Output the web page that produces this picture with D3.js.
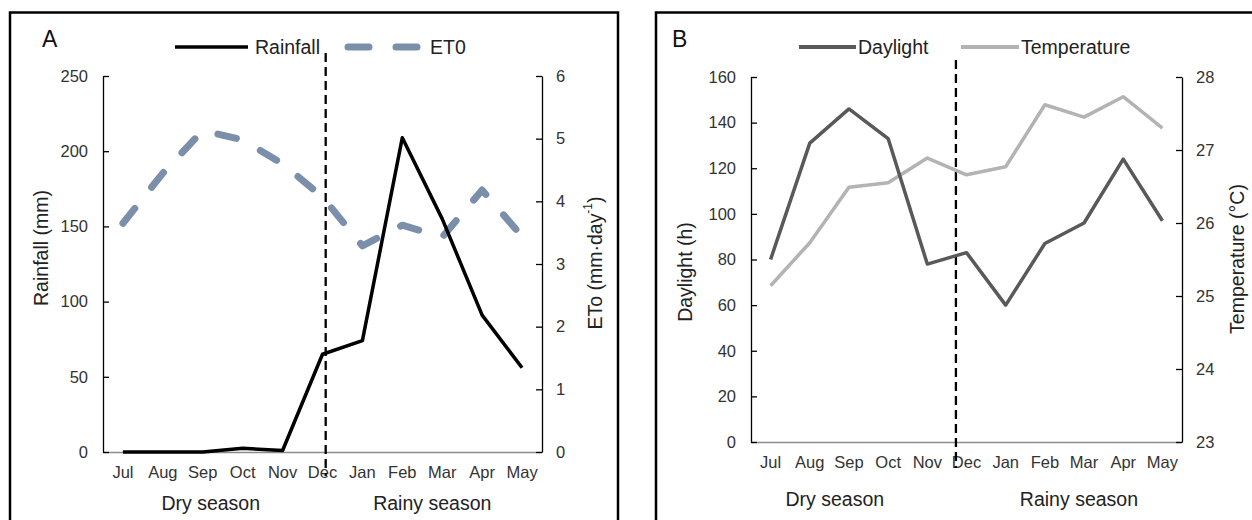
<!DOCTYPE html>
<html>
<head>
<meta charset="utf-8">
<script src="https://cdn.jsdelivr.net/npm/d3@7"></script>
<style>
  html, body { margin: 0; padding: 0; background: #fff; }
  svg { display: block; font-family: "Liberation Sans", Arial, sans-serif; }
  .tick text { fill: #333; }
</style>
</head>
<body>
<svg id="chart" width="1252" height="520"></svg>
<script>
// ---- data ----
const months = ["Jul","Aug","Sep","Oct","Nov","Dec","Jan","Feb","Mar","Apr","May"];
const rainfall = [0, 0, 0, 2.5, 1, 65, 74, 209, 155, 91, 56];
const et0 = [3.65, 4.45, 5.13, 4.98, 4.6, 4.07, 3.29, 3.62, 3.43, 4.18, 3.44];
const daylight = [80, 131, 146, 133, 78, 83, 60, 87, 96, 124, 97];
const temperature = [25.14, 25.73, 26.49, 26.55, 26.89, 26.66, 26.77, 27.62, 27.45, 27.73, 27.3];
const rainTicks = [0, 50, 100, 150, 200, 250];
const etTicks = [0, 1, 2, 3, 4, 5, 6];
const dayTicks = [0, 20, 40, 60, 80, 100, 120, 140, 160];
const tempTicks = [23, 24, 25, 26, 27, 28];
const seasons = ["Dry season", "Rainy season"];
const seasonBreakA = 5.08;   // category index of season divider, panel A
const seasonBreakB = 4.73;   // panel B
const seasonCentersA = [2.2, 7.75];
const seasonCentersB = [1.64, 7.87];

const svg = d3.select("#chart");
svg.append("rect").attr("width", 1252).attr("height", 520).attr("fill", "#fff");

function panel(cfg) {
  const g = svg.append("g");
  // frame (no bottom edge visible)
  const fr = cfg.frame;
  g.append("path")
    .attr("d", `M${fr[0]},540 V${fr[1]} H${fr[2]} V540`)
    .attr("fill", "none").attr("stroke", "#000").attr("stroke-width", 2.5);

  const x = d3.scaleBand().domain(months).range([cfg.left, cfg.right]);
  const xc = m => x(m) + x.bandwidth() / 2;
  const xi = d3.scaleLinear().domain([0, months.length - 1]).range([xc(months[0]), xc(months[months.length - 1])]);
  const yL = d3.scaleLinear().domain(cfg.yLDomain).range([cfg.bottom, cfg.top]);
  const yR = d3.scaleLinear().domain(cfg.yRDomain).range([cfg.bottom, cfg.top]);
  const fmt = d3.format("d");

  // axes
  const ax = g.append("g").attr("transform", `translate(0,${cfg.bottom})`)
    .call(d3.axisBottom(x).tickSize(0).tickPadding(14).tickSizeOuter(0));
  ax.select(".domain").attr("stroke", "#8c8c8c").attr("stroke-width", 1.5);
  ax.selectAll("text").attr("font-size", 16.5).attr("font-family", "Liberation Sans, Arial");

  const al = g.append("g").attr("transform", `translate(${cfg.left},0)`)
    .call(d3.axisLeft(yL).tickValues(cfg.yLTicks).tickFormat(fmt).tickSizeInner(-6).tickSizeOuter(0).tickPadding(15));
  al.selectAll("text").attr("font-size", 16.5).attr("font-family", "Liberation Sans, Arial");
  al.selectAll("line, path").attr("stroke", "#000").attr("stroke-width", 1.3);

  const ar = g.append("g").attr("transform", `translate(${cfg.right},0)`)
    .call(d3.axisRight(yR).tickValues(cfg.yRTicks).tickFormat(fmt).tickSizeInner(-6).tickSizeOuter(0).tickPadding(14));
  ar.selectAll("text").attr("font-size", 16.5).attr("font-family", "Liberation Sans, Arial");
  ar.selectAll("line, path").attr("stroke", "#000").attr("stroke-width", 1.3);

  // axis titles
  g.append("text").attr("transform", `translate(${cfg.titleL[0]},${cfg.titleL[1]}) rotate(-90)`)
    .attr("text-anchor", "middle").attr("dominant-baseline", "central")
    .attr("font-size", 19.5).attr("fill", "#222").text(cfg.titleLText);
  const tr = g.append("text").attr("transform", `translate(${cfg.titleR[0]},${cfg.titleR[1]}) rotate(-90)`)
    .attr("text-anchor", "middle").attr("dominant-baseline", "central")
    .attr("font-size", 19.5).attr("fill", "#222");
  cfg.titleRText(tr);

  // panel letter
  g.append("text").attr("x", cfg.letterPos[0]).attr("y", cfg.letterPos[1])
    .attr("font-size", 23).attr("fill", "#111").text(cfg.letter);

  // season divider
  const dx = xi(cfg.seasonBreak);
  g.append("line").attr("x1", dx).attr("x2", dx).attr("y1", cfg.divY[0]).attr("y2", cfg.divY[1])
    .attr("stroke", "#000").attr("stroke-width", 2.3).attr("stroke-dasharray", "9,5");

  // season labels
  seasons.forEach((s, i) => {
    g.append("text").attr("x", xi(cfg.seasonCenters[i])).attr("y", cfg.bottom + cfg.seasonDy)
      .attr("text-anchor", "middle").attr("font-size", 19.5).attr("fill", "#222").text(s);
  });

  // series
  cfg.series.forEach(s => {
    const y = s.axis === "L" ? yL : yR;
    const line = d3.line().x((d, i) => xc(months[i])).y(d => y(d));
    g.append("path").datum(s.values).attr("d", line)
      .attr("fill", "none").attr("stroke", s.color).attr("stroke-width", s.width)
      .attr("stroke-linejoin", "round").attr("stroke-linecap", s.cap || "butt")
      .attr("stroke-dasharray", s.dash || null);
  });

  // legend
  cfg.legend.forEach(l => {
    g.append("line").attr("x1", l.x1).attr("x2", l.x2).attr("y1", cfg.legendY).attr("y2", cfg.legendY)
      .attr("stroke", l.color).attr("stroke-width", l.width)
      .attr("stroke-linecap", l.cap || "butt").attr("stroke-dasharray", l.dash || null);
    g.append("text").attr("x", l.tx).attr("y", cfg.legendY).attr("dominant-baseline", "central")
      .attr("font-size", 19.5).attr("fill", "#222").text(l.label);
  });
}

panel({
  frame: [10, 12.5, 618],
  left: 103, right: 542, top: 76, bottom: 452,
  yLDomain: [0, 250], yRDomain: [0, 6], yLTicks: rainTicks, yRTicks: etTicks,
  titleL: [41, 248], titleLText: "Rainfall (mm)",
  titleR: [595, 263],
  titleRText: t => { t.append("tspan").text("ETo (mm·day"); t.append("tspan").attr("baseline-shift", "super").attr("font-size", 12).text("-1"); t.append("tspan").text(")"); },
  letter: "A", letterPos: [42, 47],
  seasonBreak: seasonBreakA, divY: [53, 476],
  seasonCenters: seasonCentersA, seasonDy: 58,
  series: [
    { values: et0, axis: "R", color: "#7b8fab", width: 7, dash: "19,27", cap: "round" },
    { values: rainfall, axis: "L", color: "#000", width: 3.5 }
  ],
  legendY: 47,
  legend: [
    { x1: 175, x2: 248, color: "#000", width: 3.5, tx: 255, label: "Rainfall" },
    { x1: 348, x2: 421, color: "#7b8fab", width: 7, dash: "21,27", cap: "round", tx: 430, label: "ET0" }
  ]
});

panel({
  frame: [656, 12.5, 1262],
  left: 751, right: 1182, top: 77, bottom: 442,
  yLDomain: [0, 160], yRDomain: [23, 28], yLTicks: dayTicks, yRTicks: tempTicks,
  titleL: [685, 272], titleLText: "Daylight (h)",
  titleR: [1237, 259],
  titleRText: t => t.text("Temperature (°C)"),
  letter: "B", letterPos: [672, 47],
  seasonBreak: seasonBreakB, divY: [60, 468],
  seasonCenters: seasonCentersB, seasonDy: 64,
  series: [
    { values: temperature, axis: "R", color: "#b3b3b3", width: 3.5 },
    { values: daylight, axis: "L", color: "#595959", width: 3.5 }
  ],
  legendY: 47,
  legend: [
    { x1: 799, x2: 856, color: "#595959", width: 4, tx: 858, label: "Daylight" },
    { x1: 961, x2: 1019, color: "#b3b3b3", width: 4, tx: 1021, label: "Temperature" }
  ]
});
</script>
</body>
</html>
